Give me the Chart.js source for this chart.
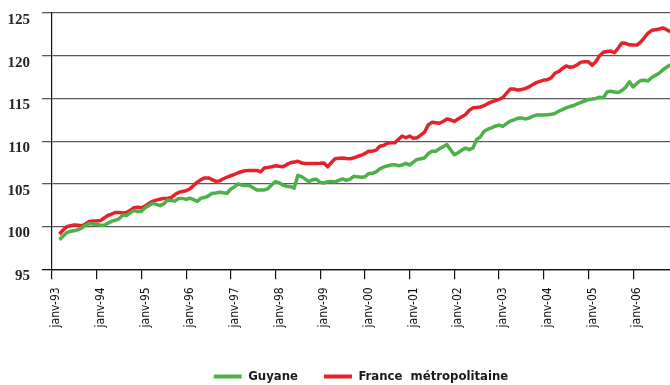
<!DOCTYPE html>
<html>
<head>
<meta charset="utf-8">
<script src="https://cdn.jsdelivr.net/npm/chart.js@4.4.1/dist/chart.umd.min.js"></script>
<style>
  html, body { margin: 0; padding: 0; background: #fff; }
  canvas { display: block; }
</style>
</head>
<body>
<canvas id="prixChart" width="670" height="385"></canvas>
<script>
/* ───────────── DONNÉES ───────────── */
// indices mensuels, de mars-93 à nov-06
const firstMonth = 2; // 0 = janv-93
const monthNames = ["janv", "févr", "mars", "avr", "mai", "juin", "juil", "août", "sept", "oct", "nov", "déc"];

const guyane = [
  98.45, 98.9, 99.3, 99.45, 99.5, 99.65, 99.85, 100.15, 100.35, 100.3,
  100.25, 100.15, 100.15, 100.4, 100.6, 100.75, 100.9, 101.35, 101.3, 101.6,
  101.9, 101.75, 101.8, 102.2, 102.45, 102.72, 102.6, 102.45, 102.65, 103.1,
  103.06, 102.98, 103.3, 103.3, 103.2, 103.32, 103.15, 102.95, 103.33, 103.4,
  103.6, 103.9, 103.93, 104.02, 103.95, 103.9, 104.4, 104.65, 105.0, 104.85,
  104.82, 104.82, 104.55, 104.29, 104.29, 104.29, 104.45, 104.9, 105.25, 105.12,
  104.85, 104.72, 104.67, 104.5, 106.0, 105.85, 105.55, 105.25, 105.5, 105.55,
  105.15, 105.1, 105.25, 105.29, 105.22, 105.4, 105.6, 105.4, 105.55, 105.88,
  105.82, 105.78, 105.82, 106.2, 106.22, 106.4, 106.76, 106.95, 107.1, 107.2,
  107.25, 107.12, 107.2, 107.42, 107.2, 107.55, 107.87, 107.95, 108.03, 108.55,
  108.83, 108.83, 109.1, 109.35, 109.6, 109.0, 108.4, 108.65, 108.95, 109.2,
  109.0, 109.2, 110.2, 110.5, 111.15, 111.4, 111.55, 111.75, 111.88, 111.72,
  112.05, 112.35, 112.5, 112.67, 112.72, 112.6, 112.7, 112.9, 113.05, 113.05,
  113.05, 113.1, 113.15, 113.23, 113.5, 113.7, 113.9, 114.05, 114.17, 114.35,
  114.53, 114.7, 114.88, 114.93, 115.0, 115.15, 115.08, 115.75, 115.85, 115.75,
  115.68, 115.95, 116.3, 116.95, 116.35, 116.75, 117.1, 117.12, 117.05, 117.45,
  117.7, 117.95, 118.35, 118.65, 118.95
];

const france = [
  99.1, 99.6, 100.0, 100.1, 100.2, 100.15, 100.1, 100.3, 100.6, 100.65,
  100.65, 100.7, 101.0, 101.3, 101.45, 101.65, 101.65, 101.6, 101.65, 101.9,
  102.2, 102.25, 102.2, 102.4, 102.7, 102.95, 103.1, 103.2, 103.3, 103.3,
  103.4, 103.75, 104.0, 104.1, 104.2, 104.4, 104.8, 105.2, 105.5, 105.7,
  105.7, 105.5, 105.3, 105.35, 105.6, 105.8, 105.95, 106.1, 106.3, 106.45,
  106.55, 106.57, 106.57, 106.57, 106.4, 106.85, 106.93, 107.0, 107.12, 107.05,
  107.0, 107.25, 107.47, 107.55, 107.65, 107.45, 107.39, 107.39, 107.39, 107.39,
  107.4, 107.45, 107.0, 107.5, 107.93, 108.0, 108.04, 107.98, 107.93, 108.05,
  108.2, 108.35, 108.55, 108.83, 108.83, 108.95, 109.4, 109.5, 109.75, 109.8,
  109.8, 110.2, 110.6, 110.4, 110.6, 110.35, 110.4, 110.7, 111.05, 111.9,
  112.2, 112.15, 112.1, 112.3, 112.6, 112.5, 112.3, 112.6, 112.85, 113.1,
  113.6, 113.9, 113.95, 114.0, 114.15, 114.4, 114.6, 114.75, 114.9, 115.1,
  115.6, 116.1, 116.1, 115.97, 116.05, 116.15, 116.35, 116.6, 116.85, 117.0,
  117.15, 117.2, 117.4, 117.95, 118.15, 118.5, 118.8, 118.65, 118.7, 118.95,
  119.25, 119.29, 119.28, 118.9, 119.3, 120.0, 120.4, 120.5, 120.55, 120.35,
  120.9, 121.5, 121.45, 121.27, 121.25, 121.25, 121.6, 122.1, 122.65, 122.97,
  123.05, 123.13, 123.25, 123.05, 122.8
];

const yearTicks = ["janv-93", "janv-94", "janv-95", "janv-96", "janv-97", "janv-98", "janv-99",
                   "janv-00", "janv-01", "janv-02", "janv-03", "janv-04", "janv-05", "janv-06"];
const yTicks = [95, 100, 105, 110, 115, 120, 125];

/* ───────────── HELPERS ───────────── */
const monthLabel = m => monthNames[m % 12] + "-" + String((93 + Math.floor(m / 12)) % 100).padStart(2, "0");
const toPoints = values => values.map((v, i) => ({ x: firstMonth + i, y: v, label: monthLabel(firstMonth + i) }));

const narrow = "'Liberation Sans Narrow', 'DejaVu Sans Condensed', 'Roboto Condensed', sans-serif";
const GREEN = "#4cb148";
const RED = "#e8202a";

// the legend sits a little right of the canvas centre
const legendShift = {
  id: "legendShift",
  afterLayout(chart) {
    if (chart.legend) {
      chart.legend.left += 26;
      chart.legend.right += 26;
    }
  }
};

/* ───────────── CHART ───────────── */
new Chart(document.getElementById("prixChart"), {
  type: "line",
  data: {
    datasets: [
      {
        label: "Guyane",
        data: toPoints(guyane),
        borderColor: GREEN,
        backgroundColor: GREEN,
        borderWidth: 3.5,
        pointRadius: 0,
        tension: 0,
        borderJoinStyle: "round"
      },
      {
        label: "France  métropolitaine",
        data: toPoints(france),
        borderColor: RED,
        backgroundColor: RED,
        borderWidth: 3.5,
        pointRadius: 0,
        tension: 0,
        borderJoinStyle: "round"
      }
    ]
  },
  options: {
    responsive: false,
    animation: false,
    layout: { padding: { top: 13, right: 0, left: 0, bottom: -8 } },
    plugins: {
      tooltip: { enabled: false },
      legend: {
        position: "bottom",
        labels: {
          boxWidth: 28,
          boxHeight: 4,
          padding: 26,
          color: "#1a1a1a",
          font: { family: narrow, size: 13, weight: "bold" },
          generateLabels: chart =>
            Chart.defaults.plugins.legend.labels.generateLabels(chart).map(l => ({ ...l, lineWidth: 0 }))
        }
      }
    },
    scales: {
      x: {
        type: "linear",
        min: 0,
        max: 165.9,
        afterFit: s => { s.height = 74.7; },
        afterBuildTicks: s => { s.ticks = yearTicks.map((_, i) => ({ value: i * 12 })); },
        grid: { drawOnChartArea: false, drawTicks: true, tickLength: 10, color: "#111", lineWidth: 1.2 },
        border: { display: true, color: "#111", width: 1.2 },
        ticks: {
          minRotation: 90,
          maxRotation: 90,
          autoSkip: false,
          padding: 8,
          labelOffset: 4,
          color: "#111",
          font: { family: narrow, size: 12 },
          callback: v => yearTicks[Math.round(v / 12)]
        }
      },
      y: {
        min: yTicks[0],
        max: yTicks[yTicks.length - 1],
        afterFit: s => {
          s.width = 52;
          s.paddingTop = 4;
          s.paddingBottom = 4;
        },
        afterBuildTicks: s => { s.ticks = yTicks.map(v => ({ value: v })); },
        grid: {
          color: ctx => ctx.tick && ctx.tick.value === 95 ? "#111" : "#5a5a5a",
          lineWidth: 1.3,
          drawTicks: true,
          tickLength: 10
        },
        border: { display: true, color: "#111", width: 1.2 },
        ticks: {
          padding: 12,
          labelOffset: 7,
          color: "#262626",
          font: { family: "'Liberation Serif', 'DejaVu Serif', serif", size: 15, weight: "bold" }
        }
      }
    }
  },
  plugins: [legendShift]
});
</script>
</body>
</html>
